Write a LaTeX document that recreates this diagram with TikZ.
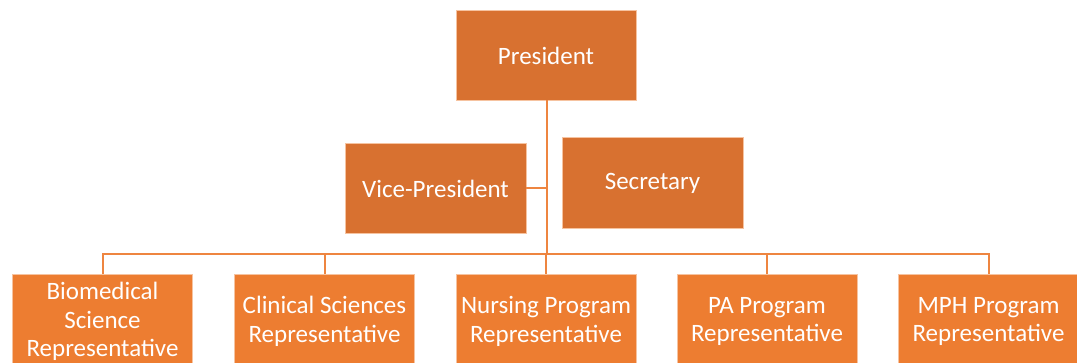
\documentclass[tikz,border=0pt]{standalone}
\usepackage{fontspec}
\setmainfont{Carlito}
\definecolor{darkbox}{HTML}{D87130}
\definecolor{lightbox}{HTML}{ED7D31}
\definecolor{linecol}{HTML}{EE8540}
\definecolor{edgecol}{HTML}{F6C3A0}
\begin{document}
\begin{tikzpicture}[x=1pt,y=-1pt,
  box/.style={draw=edgecol,line width=0.6pt,minimum width=180pt,minimum height=90pt,
    inner sep=0pt},
  topbox/.style={box,fill=darkbox},
  botbox/.style={box,fill=lightbox},
  lbl/.style={inner sep=0pt,text=white,align=center,font=\fontsize{25}{28.5}\selectfont},
  conn/.style={draw=linecol,line width=2pt}]
\useasboundingbox (0,0) rectangle (1077,363);
\clip (0,0) rectangle (1077,363);
\node[topbox] (pres) at (546,55) {};
\node[topbox,minimum width=181pt] (vp) at (435.5,188) {};
\node[topbox,minimum width=181pt,minimum height=91pt] (sec) at (652.5,182.5) {};
\node[botbox] (bio) at (102.5,319.5) {};
\node[botbox] (cli) at (324.5,319.5) {};
\node[botbox] (nur) at (546,319.5) {};
\node[botbox] (pa) at (767,319.5) {};
\node[botbox] (mph) at (988.5,319.5) {};
\node[lbl] (presl) at ([yshift=-1pt]pres.center) {President};
\node[lbl] (vpl) at ([yshift=-1pt]vp.center) {Vice-President};
\node[lbl] (secl) at ([yshift=-1pt]sec.center) {Secretary};
\node[lbl] (biol) at ([yshift=-2pt]bio.center) {Biomedical\\Science\\Representative};
\node[lbl] (clil) at ([yshift=-2pt]cli.center) {Clinical Sciences\\Representative};
\node[lbl] (nurl) at ([yshift=-2pt]nur.center) {Nursing Program\\Representative};
\node[lbl] (pal) at ([yshift=-2pt]pa.center) {PA Program\\Representative};
\node[lbl] (mphl) at ([yshift=-2pt]mph.center) {MPH Program\\Representative};
\coordinate (hub) at (546.5,254.5);
\coordinate (vpj) at (546.5,188);
\draw[conn] (pres.south -| hub) -- (hub);
\draw[conn] (vp.east) -- (vpj);
\draw[conn] (bio.north) |- (hub) -| (mph.north);
\draw[conn] (cli.north) -- (cli.north |- hub);
\draw[conn] (nur.north) -- (nur.north |- hub);
\draw[conn] (pa.north) -- (pa.north |- hub);
\end{tikzpicture}
\end{document}
